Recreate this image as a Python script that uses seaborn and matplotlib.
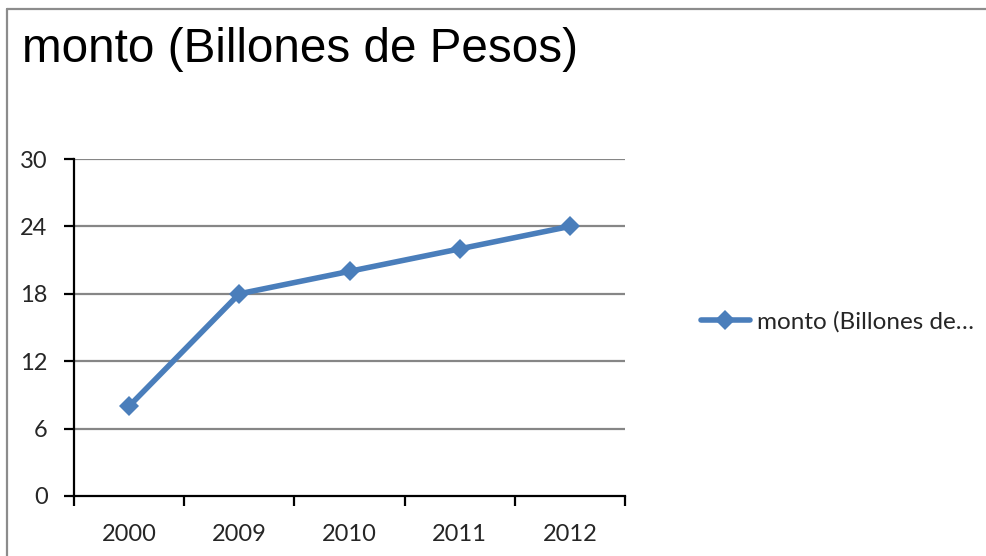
import matplotlib
matplotlib.use("Agg")
import matplotlib.pyplot as plt
from matplotlib.lines import Line2D
import seaborn as sns
import pandas as pd

years = ["2000", "2009", "2010", "2011", "2012"]
monto = [8, 18, 20, 22, 24]
y_ticks = [0, 6, 12, 18, 24, 30]
title = "monto (Billones de Pesos)"
legend_label = "monto (Billones de…"

df = pd.DataFrame({"year": years, "monto": monto})

sns.set_theme(style="white")
plt.rcParams["font.family"] = ["Lato", "DejaVu Sans"]

LINE_BLUE = "#4A7EBB"
GRID_GRAY = "#868686"

fig = plt.figure(figsize=(9.86, 5.56), dpi=100)
W, H = 986, 556
ax = fig.add_axes([74 / W, 1 - 496 / H, (625 - 74) / W, (496 - 159) / H])

x = list(range(len(years)))
sns.lineplot(x=x, y=df["monto"], ax=ax, color=LINE_BLUE, linewidth=4,
             marker="D", markersize=10, markeredgewidth=0, legend=False)

ax.set_xlim(-0.5, len(years) - 0.5)
ax.set_ylim(0, 30)
ax.set_yticks(y_ticks)
ax.set_yticklabels([str(v) for v in y_ticks])
ax.set_xticks(x)
ax.set_xticklabels(years)
ax.set_xticks([i - 0.5 for i in range(len(years) + 1)], minor=True)
ax.set_xlabel("")
ax.set_ylabel("")

for v in y_ticks[1:]:
    ax.axhline(v, color=GRID_GRAY, linewidth=1.6, zorder=0)

for side in ("top", "right"):
    ax.spines[side].set_visible(False)
for side in ("left", "bottom"):
    ax.spines[side].set_color("black")
    ax.spines[side].set_linewidth(1.6)

ax.tick_params(axis="y", which="major", direction="out", length=7, width=1.6,
               color="black", labelsize=17, pad=12, left=True)
ax.tick_params(axis="x", which="major", length=0, labelsize=17, pad=20)
ax.tick_params(axis="x", which="minor", direction="out", length=7, width=1.6,
               color="black", bottom=True)

fig.text(22 / W, 1 - 50 / H, title, fontsize=34.3, family="Liberation Sans",
         va="center", ha="left", color="black")

handle = Line2D([0], [0], color=LINE_BLUE, linewidth=4, marker="D",
                markersize=10, markeredgewidth=0)
fig.legend([handle], [legend_label], loc="center left",
           bbox_to_anchor=(689 / W, 1 - 322 / H), frameon=False,
           fontsize=17.5, handlelength=2.0, handletextpad=0.3, borderpad=0)

# chart area border (top and left edges)
fig.add_artist(Line2D([6.5 / W, 986 / W], [1 - 8.5 / H, 1 - 8.5 / H],
                      transform=fig.transFigure, color="#8c8c8c", linewidth=1.6))
fig.add_artist(Line2D([6.5 / W, 6.5 / W], [0, 1 - 8.5 / H],
                      transform=fig.transFigure, color="#8c8c8c", linewidth=1.6))

fig.savefig("out.png", dpi=100, facecolor="white")
